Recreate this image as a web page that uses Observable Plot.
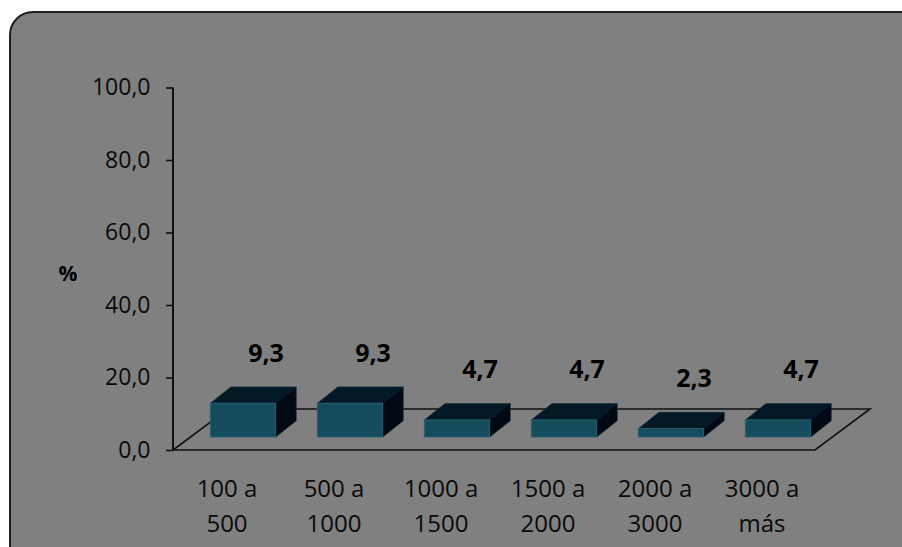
<!DOCTYPE html>
<html><head><meta charset="utf-8">
<script src="https://cdn.jsdelivr.net/npm/d3@7"></script>
<script src="https://cdn.jsdelivr.net/npm/@observablehq/plot@0.6"></script>
<style>
html,body{margin:0;padding:0;background:#fff;width:902px;height:547px;overflow:hidden;}
#panel{position:absolute;left:9px;top:11px;width:930px;height:590px;background:#808080;border:2px solid #1e1e1e;border-radius:24px;box-sizing:border-box;}
#chart{position:absolute;left:0;top:0;}
</style></head><body>
<div id="panel"></div><div id="chart"></div>
<script>
const categories = ["100 a 500", "500 a 1000", "1000 a 1500", "1500 a 2000", "2000 a 3000", "3000 a más"];
const values = [9.3, 9.3, 4.7, 4.7, 2.3, 4.7];
const yTicks = [0, 20, 40, 60, 80, 100];
const yLabel = "%";

const data = categories.map((c, i) => ({category: c, value: values[i]}));
const fmt = v => v.toFixed(1).replace(".", ",");

const FRONT = [16.5, -13];   // bar front face offset from floor front edge (px)
const DEPTH = [20.5, -16.3]; // bar depth (px)
const FLOOR = [55, -41];     // floor depth (px)

function floorMark(index, scales, values, dims) {
  const {y} = scales;
  const L = dims.marginLeft, R = dims.width - dims.marginRight;
  const y0 = y(0), yTop = y(100);
  const g = d3.create("svg:g");
  g.append("path")
    .attr("d", `M${L},${y0}L${R},${y0}L${R + FLOOR[0]},${y0 + FLOOR[1]}L${L + FLOOR[0]},${y0 + FLOOR[1]}Z`)
    .attr("fill", "none").attr("stroke", "#111").attr("stroke-width", 1.6);
  g.append("line").attr("x1", L).attr("x2", L).attr("y1", yTop).attr("y2", y0)
    .attr("stroke", "#111").attr("stroke-width", 2);
  return g.node();
}

function bars3d(index, scales) {
  const {x, y} = scales;
  const g = d3.create("svg:g");
  const bw = x.bandwidth();
  const w = bw * 0.61;
  for (const d of data) {
    const x0 = x(d.category) + (bw - w) / 2 + FRONT[0];
    const x1 = x0 + w;
    const yb = y(0) + FRONT[1];
    const yt = y(d.value) + FRONT[1];
    const [ddx, ddy] = DEPTH;
    g.append("path")
      .attr("d", `M${x0},${yt}L${x1},${yt}L${x1 + ddx},${yt + ddy}L${x0 + ddx},${yt + ddy}Z`)
      .attr("fill", "#031a26").attr("stroke", "#0b2a36").attr("stroke-width", 0.8);
    g.append("path")
      .attr("d", `M${x1},${yt}L${x1 + ddx},${yt + ddy}L${x1 + ddx},${yb + ddy}L${x1},${yb}Z`)
      .attr("fill", "#010a14").attr("stroke", "#0b1a24").attr("stroke-width", 0.8);
    g.append("rect")
      .attr("x", x0).attr("y", yt).attr("width", w).attr("height", yb - yt)
      .attr("fill", "#144b5d").attr("stroke", "#2a6272").attr("stroke-width", 1);
  }
  return g.node();
}

const chart = Plot.plot({
  width: 902,
  height: 547,
  marginLeft: 173,
  marginRight: 87,
  marginTop: 87.5,
  marginBottom: 97,
  style: {background: "transparent", color: "#000", fontFamily: "'Open Sans', sans-serif", fontSize: "22px"},
  x: {type: "band", domain: categories, padding: 0},
  y: {domain: [0, 100]},
  marks: [
    floorMark,
    Plot.axisY({ticks: yTicks, tickSize: 7, tickPadding: 16, tickFormat: fmt, fontSize: 23, label: null, stroke: "#111", strokeWidth: 1.6, fill: "#0a0a0a"}),
    Plot.axisX({tickSize: 0, tickPadding: 22, fontSize: 24, lineHeight: 1.46, label: null, fill: "#0a0a0a", tickFormat: c => c.replace(" a ", " a\n")}),
    bars3d,
    Plot.text(data, {x: "category", y: "value", text: d => fmt(d.value), dx: 39, dy: -63, fontWeight: "bold", fontSize: 25, fill: "#000"}),
    Plot.text([yLabel], {frameAnchor: "left", text: d => d, dx: -105.5, dy: 5, textAnchor: "middle", fontWeight: "bold", fontSize: 21, fill: "#000"})
  ]
});
document.getElementById("chart").appendChild(chart);
</script>
</body></html>
